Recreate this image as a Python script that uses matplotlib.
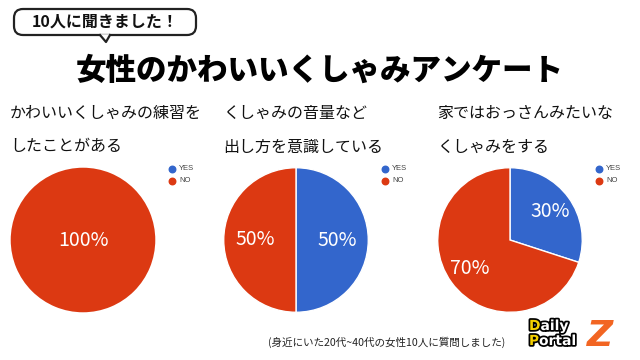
import matplotlib
matplotlib.use("Agg")
import matplotlib.pyplot as plt
import matplotlib.patheffects as pe
from matplotlib.patches import FancyBboxPatch, Polygon

plt.rcParams['font.family'] = ['Noto Sans CJK JP', 'DejaVu Sans']

W, H = 640, 360
badge_text = "10人に聞きました！"
main_title = "女性のかわいいくしゃみアンケート"
categories = ["YES", "NO"]
questions = [
    "かわいいくしゃみの練習を\nしたことがある",
    "くしゃみの音量など\n出し方を意識している",
    "家ではおっさんみたいな\nくしゃみをする",
]
yes_pct = [0, 50, 30]
no_pct = [100, 50, 70]
footer = "(身近にいた20代~40代の女性10人に質問しました)"
colors = ["#3366CC", "#DC3912"]

fig = plt.figure(figsize=(W / 100, H / 100), dpi=100)
fig.patch.set_facecolor("white")


def fx(x):
    return x / W


def fy(y):
    return 1 - y / H


bg = fig.add_axes([0, 0, 1, 1])
bg.set_xlim(0, W)
bg.set_ylim(H, 0)
bg.axis("off")

# badge
box = FancyBboxPatch((14, 9), 182, 26, boxstyle="round,pad=0,rounding_size=9",
                     fc="white", ec="#222222", lw=1.6)
bg.add_patch(box)
bg.add_patch(Polygon([[100, 34.2], [110, 34.2], [106, 42]], closed=True, fc="white", ec="none"))
bg.plot([100, 106, 110], [35, 42, 35], color="#222222", lw=1.6)
bg.text(105, 22, badge_text, ha="center", va="center", fontsize=11.5, fontweight="bold",
        color="#111111")
bg.text(320, 70, main_title, ha="center", va="center", fontsize=22, fontweight="heavy",
        color="black")

# question titles
qx = [10, 223, 437]
for x, q in zip(qx, questions):
    l1, l2 = q.split("\n")
    bg.text(x, 113, l1, ha="left", va="center", fontsize=11.5, color="#111111")
    bg.text(x, 147, l2, ha="left", va="center", fontsize=11.5, color="#111111")

# pies
centers = [(83, 240), (296, 240), (510, 240)]
R = 73
pctd = [0.0, 0.57, 0.68]
for i, (cx, cy) in enumerate(centers):
    ax = fig.add_axes([fx(cx - R), fy(cy + R), 2 * R / W, 2 * R / H])
    vals = [yes_pct[i], no_pct[i]]
    keep = [(v, c) for v, c in zip(vals, colors) if v > 0]
    ax.pie(
        [v for v, _ in keep], colors=[c for _, c in keep], startangle=90, counterclock=False,
        radius=1, autopct=lambda p: f"{p:.0f}%", pctdistance=pctd[i] if len(keep) > 1 else 0,
        wedgeprops=dict(edgecolor="white", linewidth=1 if len(keep) > 1 else 0),
        textprops=dict(color="white", fontsize=14))
    ax.set_xlim(-1.01, 1.01)
    ax.set_ylim(-1.01, 1.01)
    ax.set_aspect("equal")
    ax.axis("off")
    # legend
    lx = cx + 89
    for j, (cat, col) in enumerate(zip(categories, colors)):
        yy = 169 + 12 * j
        bg.scatter([lx], [yy], s=22, color=col, zorder=5)
        bg.text(lx + 7, yy, cat, ha="left", va="center", fontsize=5.5, color="#444444",
                family=["Liberation Sans", "DejaVu Sans"])

# footer
bg.text(268, 342, footer, ha="left", va="center", fontsize=7.6, color="#222222")

# logo approximation
stroke = [pe.withStroke(linewidth=2.5, foreground="black")]
bg.text(600, 336, "Z", ha="center", va="center", fontsize=26, fontweight="bold",
        color="#F26522", fontstyle="italic", family=["DejaVu Sans"])
for first, rest, yy, off in [("D", "aily", 326, 11.5), ("P", "ortal", 341, 10)]:
    bg.text(529, yy, first, ha="left", va="center", fontsize=10, fontweight="bold",
            color="#F5D000", family=["DejaVu Sans"], path_effects=stroke)
    bg.text(529 + off, yy, rest, ha="left", va="center", fontsize=10, fontweight="bold",
            color="white", family=["DejaVu Sans"], path_effects=stroke)

fig.savefig("out.png", dpi=100, facecolor="white")
